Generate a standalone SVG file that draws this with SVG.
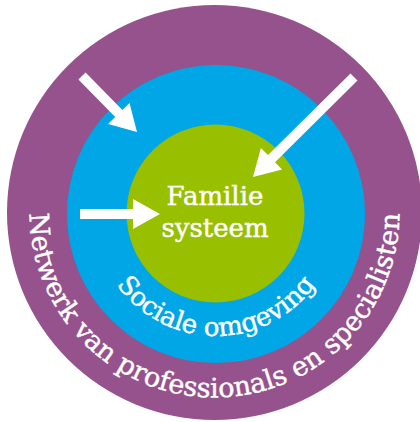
<svg xmlns="http://www.w3.org/2000/svg" width="420" height="422" viewBox="0 0 420 422">
  <style>
    .lbl { font-family: "DejaVu Serif", "Liberation Serif", serif; fill: #ffffff; stroke: #ffffff; stroke-width: 0.45; }
    .arrow { fill: #ffffff; stroke: none; }
  </style>
  <defs>
    <path id="outerArc" d="M 29.5,212.5 A 185 185 0 0 0 399.5,212.5"/>
    <path id="innerArc" d="M 94,214 A 122 122 0 0 0 338,214"/>
  </defs>
  <rect x="0" y="0" width="420" height="422" fill="#ffffff"/>
  <g id="netwerk">
    <circle cx="214.5" cy="212.5" r="207.5" fill="#95528C"/>
    <text class="lbl" font-size="27"><textPath href="#outerArc" startOffset="50%" text-anchor="middle">Netwerk van professionals en specialisten</textPath></text>
  </g>
  <g id="sociale-omgeving">
    <circle cx="216" cy="214" r="149" fill="#00A6E6"/>
    <text class="lbl" font-size="26"><textPath href="#innerArc" startOffset="50%" text-anchor="middle">Sociale omgeving</textPath></text>
  </g>
  <g id="familie-systeem">
    <circle cx="215.5" cy="213.5" r="89" fill="#98BF00"/>
    <text class="lbl" font-size="26" text-anchor="middle"><tspan x="215" y="205">Familie</tspan><tspan x="215" y="237">systeem</tspan></text>
  </g>
  <g id="connectors">
    <polygon class="arrow" points="85.6,72.5 122.4,110 129.5,102.9 137,132 108.1,124 115.2,117 78.4,79.5"/>
    <polygon class="arrow" points="350.5,73.4 268,155.1 260.9,148 253,177 282.1,169.4 275,162.3 357.5,80.6"/>
    <polygon class="arrow" points="80,209 133,209 133,199 160,214 133,229 133,219 80,219"/>
  </g>
</svg>
